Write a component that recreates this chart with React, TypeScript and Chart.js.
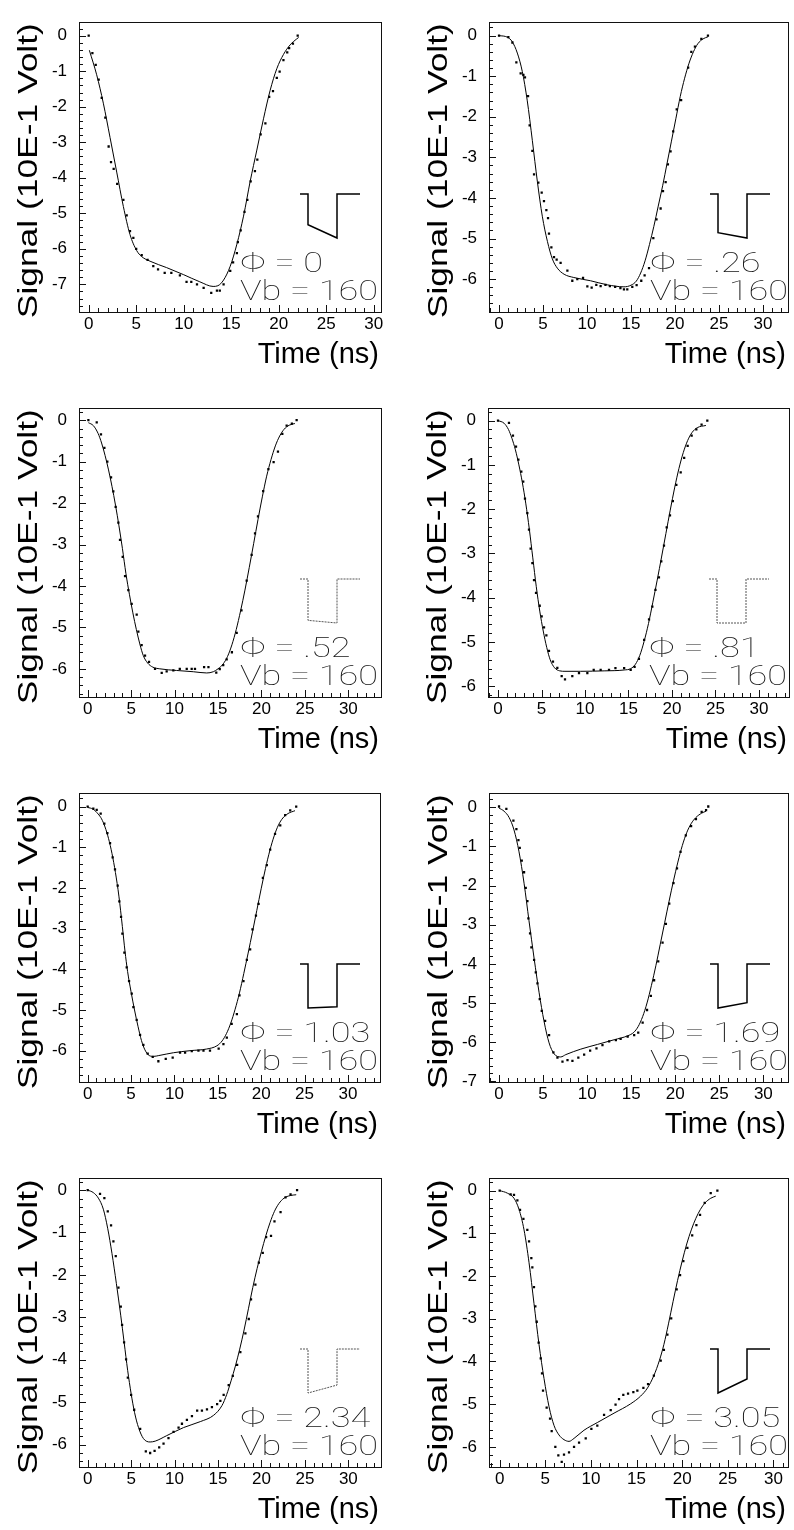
import React, { useEffect, useRef } from "react";
import { Chart, registerables } from "chart.js";
Chart.register(...registerables);

// ---------- labels ----------
const phiLabels = ["0", ".26", ".52", ".81", "1.03", "1.69", "2.34", "3.05"];
const vbLabels = ["160", "160", "160", "160", "160", "160", "160", "160"];
const xTitle = "Time (ns)";
const yTitle = "Signal (10E-1 Volt)";
const xTickValues = [0, 5, 10, 15, 20, 25, 30];
const yTicks7 = [-7, -6, -5, -4, -3, -2, -1, 0];
const yTicks6 = [-6, -5, -4, -3, -2, -1, 0];

// ---------- axis ranges ----------
const xMin = [-1.02, -1.14, -1.0, -1.15, -1.0, -1.14, -1.0, -1.17];
const xMax = [30.77, 32.85, 33.76, 33.45, 33.7, 32.8, 33.76, 31.6];
const yMin = [-7.78, -6.81, -6.68, -6.24, -6.77, -7.02, -6.53, -6.47];
const yMax = [0.38, 0.33, 0.29, 0.28, 0.33, 0.36, 0.28, 0.29];

// ---------- inset pulse shape (relative depth at start / end of pulse) ----------
const pulseStart = [0.7, 0.88, 0.94, 1.0, 1.0, 1.0, 1.0, 1.0];
const pulseEnd = [1.0, 1.0, 1.0, 1.0, 0.97, 0.88, 0.82, 0.68];

// ---------- data: measured points and simulated curves ----------
const p1Dots = [[0,0],[0.39,-0.49],[0.74,-0.82],[1.05,-1.24],[1.37,-1.75],[1.75,-2.31],[2.1,-3.12],[2.35,-3.56],[2.63,-3.75],[3.0,-4.17],[3.65,-4.62],[4.0,-5.06],[4.35,-5.5],[4.7,-5.69],[5.0,-6.0],[5.58,-6.18],[6.2,-6.31],[6.8,-6.49],[7.3,-6.58],[8.0,-6.68],[8.7,-6.68],[9.6,-6.75],[10.3,-6.93],[10.8,-6.93],[11.4,-7.0],[12.1,-7.1],[12.9,-7.24],[13.5,-7.18],[13.8,-7.18],[14.2,-7.0],[14.9,-6.62],[15.2,-6.38],[15.6,-6.12],[15.7,-5.81],[16.0,-5.48],[16.4,-4.96],[16.7,-4.62],[17.05,-4.1],[17.5,-3.81],[17.75,-3.49],[18.1,-2.78],[18.6,-2.47],[19.0,-1.72],[19.4,-1.56],[19.8,-1.19],[20.1,-1.01],[20.5,-0.69],[20.9,-0.47],[21.1,-0.35],[21.5,-0.22],[22.0,0]];
const p1Curve = [[0.07,-0.41],[0.84,-1.1],[1.54,-1.9],[2.25,-2.87],[2.95,-3.84],[3.65,-4.81],[4.35,-5.6],[5.05,-6.05],[5.58,-6.22],[6.46,-6.35],[8.2,-6.53],[10.0,-6.73],[11.7,-6.93],[13.1,-7.06],[13.6,-7.04],[14.2,-6.88],[14.9,-6.49],[15.6,-5.87],[16.3,-5.08],[17.0,-4.1],[17.7,-3.22],[18.4,-2.34],[19.1,-1.54],[19.8,-0.93],[20.5,-0.53],[21.2,-0.26],[21.9,-0.09],[22.1,-0.05]];

const p2Dots = [[0,0],[1.06,-0.04],[1.52,-0.17],[1.97,-0.66],[2.46,-0.93],[2.77,-0.97],[2.95,-1.03],[3.3,-1.49],[3.48,-2.21],[3.79,-2.84],[3.98,-3.42],[4.47,-3.62],[4.85,-3.87],[5.11,-4.08],[5.38,-4.3],[5.57,-4.5],[5.68,-4.88],[5.95,-5.22],[6.25,-5.46],[6.55,-5.52],[7.0,-5.6],[7.77,-5.79],[8.33,-6.04],[8.9,-6.0],[9.55,-5.97],[10.04,-6.18],[10.53,-6.21],[11.06,-6.14],[11.55,-6.17],[12.1,-6.14],[12.6,-6.17],[13.2,-6.19],[13.8,-6.22],[14.2,-6.25],[14.58,-6.25],[15.15,-6.19],[15.64,-6.15],[16.17,-6.04],[16.55,-5.91],[17.05,-5.73],[17.54,-4.99],[17.9,-4.53],[18.37,-4.26],[18.64,-3.83],[18.94,-3.61],[19.2,-3.17],[19.5,-2.85],[19.8,-2.36],[20.2,-1.82],[20.7,-1.59],[21.5,-0.79],[21.86,-0.4],[22.27,-0.27],[23.0,-0.08],[23.75,0]];
const p2Curve = [[0,0],[0.95,-0.04],[1.5,-0.15],[2.08,-0.43],[2.65,-0.89],[3.2,-1.59],[3.79,-2.59],[4.36,-3.6],[4.92,-4.45],[5.5,-5.07],[6.06,-5.5],[6.63,-5.73],[7.4,-5.88],[8.5,-5.96],[10.4,-6.04],[12.3,-6.14],[14.2,-6.19],[15.0,-6.15],[15.6,-6.05],[16.1,-5.85],[16.6,-5.55],[17.1,-5.15],[17.6,-4.7],[18.1,-4.2],[18.6,-3.7],[19.1,-3.15],[19.6,-2.6],[20.1,-2.05],[20.6,-1.5],[21.1,-1.05],[21.6,-0.68],[22.1,-0.4],[22.6,-0.2],[23.2,-0.08],[23.75,-0.03]];

const p3Dots = [[0.08,0],[1.04,-0.05],[1.53,-0.34],[1.92,-0.67],[2.26,-1.0],[2.69,-1.38],[2.95,-1.72],[3.22,-2.09],[3.53,-2.47],[3.72,-2.89],[4.03,-3.3],[4.3,-3.76],[4.68,-4.1],[5.06,-4.43],[5.64,-4.69],[5.83,-5.1],[6.21,-5.43],[6.6,-5.68],[7.06,-5.83],[7.75,-6.0],[8.52,-6.1],[9.09,-6.06],[9.86,-6.04],[10.6,-6.0],[11.4,-6.0],[11.97,-6.0],[12.35,-6.0],[13.4,-5.96],[13.9,-5.96],[14.8,-6.09],[15.2,-6.01],[15.6,-5.91],[16.0,-5.77],[16.6,-5.6],[17.15,-5.13],[17.7,-4.59],[18.3,-3.87],[18.87,-3.25],[19.26,-2.73],[19.6,-2.32],[20.2,-1.71],[20.8,-1.18],[21.4,-1.01],[21.9,-0.76],[22.4,-0.33],[22.9,-0.13],[23.5,-0.08],[24.05,0]];
const p3Curve = [[0.08,-0.06],[0.65,-0.13],[1.2,-0.32],[1.6,-0.55],[2.0,-0.85],[2.4,-1.2],[2.8,-1.6],[3.2,-2.05],[3.6,-2.55],[4.0,-3.1],[4.4,-3.7],[4.8,-4.2],[5.2,-4.65],[5.6,-5.05],[6.0,-5.4],[6.4,-5.68],[6.9,-5.86],[7.5,-5.96],[8.3,-6.0],[10.24,-6.04],[12.16,-6.07],[13.7,-6.1],[14.46,-6.07],[15.0,-6.0],[15.6,-5.88],[16.1,-5.7],[16.6,-5.42],[17.1,-5.05],[17.6,-4.6],[18.1,-4.1],[18.6,-3.55],[19.1,-2.98],[19.6,-2.4],[20.1,-1.85],[20.6,-1.35],[21.1,-0.95],[21.6,-0.62],[22.1,-0.38],[22.6,-0.22],[23.2,-0.12],[23.85,-0.08]];

const p4Dots = [[0,0],[1.26,-0.05],[1.72,-0.34],[2.07,-0.59],[2.34,-0.88],[2.68,-1.15],[2.9,-1.38],[3.1,-1.76],[3.37,-2.09],[3.56,-2.46],[3.75,-2.89],[3.95,-3.22],[4.14,-3.6],[4.37,-3.89],[4.79,-4.18],[5.02,-4.42],[5.29,-4.67],[5.56,-4.85],[5.86,-5.2],[6.32,-5.44],[6.82,-5.58],[7.32,-5.77],[7.7,-5.84],[8.54,-5.77],[9.31,-5.7],[10.27,-5.7],[11.0,-5.63],[11.8,-5.63],[12.76,-5.63],[13.5,-5.59],[14.5,-5.59],[15.25,-5.63],[15.7,-5.56],[16.2,-5.38],[16.8,-4.95],[17.36,-4.49],[17.74,-4.2],[18.1,-3.82],[18.5,-3.54],[18.77,-3.18],[19.08,-2.82],[19.39,-2.41],[19.77,-2.14],[20.1,-1.82],[20.5,-1.45],[21.0,-1.17],[21.4,-0.84],[21.8,-0.57],[22.26,-0.34],[22.8,-0.2],[23.4,-0.09],[24.06,0]];
const p4Curve = [[0,0],[0.7,-0.06],[1.2,-0.2],[1.6,-0.4],[2.0,-0.66],[2.4,-1.0],[2.8,-1.4],[3.2,-1.88],[3.6,-2.45],[4.0,-3.1],[4.4,-3.75],[4.8,-4.3],[5.2,-4.75],[5.6,-5.12],[6.0,-5.4],[6.5,-5.58],[7.1,-5.65],[7.7,-5.66],[9.5,-5.66],[12.2,-5.65],[14.5,-5.63],[15.25,-5.6],[15.8,-5.5],[16.3,-5.3],[16.8,-4.98],[17.3,-4.58],[17.8,-4.1],[18.3,-3.6],[18.8,-3.08],[19.3,-2.55],[19.8,-2.02],[20.3,-1.52],[20.8,-1.08],[21.3,-0.72],[21.8,-0.45],[22.3,-0.27],[22.9,-0.16],[23.9,-0.11]];

const p5Dots = [[0,0],[0.65,-0.05],[1.04,-0.08],[1.5,-0.17],[1.92,-0.42],[2.27,-0.65],[2.58,-0.9],[2.88,-1.25],[3.15,-1.54],[3.46,-1.94],[3.65,-2.33],[3.85,-2.71],[4.0,-3.12],[4.23,-3.59],[4.5,-3.95],[4.77,-4.29],[5.08,-4.6],[5.27,-4.93],[5.65,-5.24],[6.04,-5.61],[6.42,-5.86],[6.92,-6.07],[7.5,-6.15],[8.15,-6.26],[9.0,-6.2],[9.8,-6.17],[10.65,-6.05],[11.23,-6.05],[12.0,-6.01],[12.77,-6.0],[13.35,-6.0],[14.1,-6.0],[15.1,-5.95],[15.65,-5.84],[16.04,-5.68],[16.6,-5.34],[17.2,-5.1],[17.5,-4.64],[17.96,-4.29],[18.35,-3.77],[18.73,-3.51],[19.0,-3.02],[19.4,-2.68],[19.7,-2.39],[20.2,-1.75],[20.65,-1.44],[21.04,-1.06],[21.6,-0.67],[22.2,-0.46],[22.77,-0.21],[23.35,-0.09],[24.04,0]];
const p5Curve = [[0,-0.02],[0.6,-0.06],[1.2,-0.18],[1.6,-0.3],[2.0,-0.5],[2.4,-0.78],[2.8,-1.15],[3.2,-1.62],[3.6,-2.2],[4.0,-2.95],[4.3,-3.55],[4.6,-4.05],[5.0,-4.55],[5.4,-5.0],[5.8,-5.4],[6.2,-5.75],[6.6,-5.98],[7.1,-6.12],[7.6,-6.14],[8.2,-6.12],[9.9,-6.05],[11.8,-6.0],[13.7,-5.96],[14.9,-5.88],[15.5,-5.76],[16.0,-5.58],[16.5,-5.32],[17.0,-4.98],[17.5,-4.58],[18.0,-4.1],[18.5,-3.6],[19.0,-3.08],[19.5,-2.55],[20.0,-2.02],[20.5,-1.52],[21.0,-1.08],[21.5,-0.72],[22.0,-0.45],[22.5,-0.28],[23.1,-0.17],[23.9,-0.1]];

const p6Dots = [[0,0.02],[0.83,-0.04],[1.63,-0.34],[1.97,-0.56],[2.2,-0.84],[2.35,-1.04],[2.58,-1.36],[2.84,-1.66],[3.03,-2.06],[3.22,-2.4],[3.33,-2.84],[3.52,-3.22],[3.67,-3.58],[3.98,-3.9],[4.17,-4.22],[4.36,-4.5],[4.62,-4.9],[4.85,-5.2],[5.23,-5.46],[5.68,-5.82],[6.17,-6.26],[6.63,-6.4],[7.2,-6.5],[7.77,-6.46],[8.33,-6.48],[9.0,-6.4],[9.66,-6.32],[10.34,-6.22],[11.06,-6.16],[11.74,-6.08],[12.5,-5.98],[13.26,-5.95],[13.8,-5.92],[14.6,-5.86],[15.34,-5.82],[15.8,-5.76],[16.3,-5.5],[16.8,-5.18],[17.23,-4.82],[17.6,-4.42],[18.07,-3.94],[18.56,-3.46],[18.94,-2.98],[19.32,-2.46],[19.8,-1.94],[20.2,-1.56],[20.6,-1.14],[21.2,-0.72],[21.8,-0.48],[22.35,-0.3],[23.0,-0.12],[23.5,-0.07],[23.75,0.02]];
const p6Curve = [[0,-0.02],[0.57,-0.1],[1.14,-0.26],[1.7,-0.58],[2.27,-1.14],[2.84,-1.94],[3.4,-2.9],[3.98,-3.86],[4.55,-4.74],[5.1,-5.46],[5.68,-6.02],[6.25,-6.3],[7.0,-6.38],[7.58,-6.32],[9.28,-6.18],[11.17,-6.06],[13.07,-5.94],[14.6,-5.84],[15.3,-5.75],[15.8,-5.6],[16.3,-5.35],[16.8,-5.0],[17.3,-4.55],[17.8,-4.05],[18.3,-3.5],[18.8,-2.95],[19.3,-2.4],[19.8,-1.88],[20.3,-1.4],[20.8,-0.98],[21.3,-0.65],[21.8,-0.42],[22.35,-0.26],[23.0,-0.15],[23.5,-0.1]];

const p7Dots = [[0,0],[1.42,-0.09],[1.92,-0.19],[2.31,-0.5],[2.69,-0.83],[2.96,-1.21],[3.23,-1.56],[3.54,-2.3],[3.81,-2.75],[3.96,-3.18],[4.19,-3.59],[4.42,-3.99],[4.62,-4.42],[5.0,-4.83],[5.35,-5.18],[6.04,-5.63],[6.69,-6.16],[7.19,-6.2],[7.7,-6.15],[8.23,-6.07],[8.73,-5.98],[9.3,-5.85],[9.88,-5.7],[10.46,-5.6],[10.85,-5.51],[11.42,-5.42],[12.0,-5.33],[12.6,-5.2],[13.15,-5.2],[13.73,-5.17],[14.3,-5.12],[14.9,-5.05],[15.27,-4.97],[15.65,-4.83],[16.23,-4.6],[16.7,-4.38],[17.2,-4.12],[17.57,-3.82],[18.15,-3.38],[18.54,-3.04],[18.8,-2.58],[19.3,-2.23],[19.7,-1.71],[20.15,-1.48],[20.54,-1.11],[21.1,-1.08],[21.5,-0.74],[22.2,-0.52],[22.77,-0.17],[23.35,-0.1],[24.1,0]];
const p7Curve = [[0,0],[0.65,-0.06],[1.23,-0.19],[1.8,-0.45],[2.3,-0.9],[2.8,-1.5],[3.3,-2.2],[3.8,-2.95],[4.2,-3.6],[4.6,-4.25],[5.0,-4.8],[5.4,-5.25],[5.85,-5.6],[6.42,-5.86],[7.19,-5.94],[7.77,-5.92],[9.1,-5.79],[11.04,-5.6],[12.96,-5.46],[14.5,-5.31],[15.46,-5.08],[16.0,-4.82],[16.5,-4.5],[17.0,-4.15],[17.5,-3.75],[18.0,-3.3],[18.5,-2.8],[19.0,-2.3],[19.5,-1.85],[20.0,-1.45],[20.5,-1.08],[21.0,-0.76],[21.5,-0.5],[22.0,-0.32],[22.6,-0.19],[23.3,-0.13],[24.0,-0.11]];

const p8Dots = [[0,0],[1.2,-0.09],[1.57,-0.1],[1.94,-0.23],[2.23,-0.45],[2.6,-0.66],[3.03,-0.92],[3.22,-1.19],[3.47,-1.58],[3.58,-1.8],[3.76,-2.26],[3.91,-2.71],[4.06,-3.07],[4.27,-3.56],[4.5,-3.93],[4.64,-4.28],[4.75,-4.68],[5.15,-5.08],[5.52,-5.34],[5.7,-5.63],[6.1,-6.0],[6.43,-6.2],[6.8,-6.35],[7.05,-6.18],[7.6,-6.13],[8.15,-6.0],[8.7,-5.9],[9.43,-5.8],[10.05,-5.58],[10.7,-5.5],[11.44,-5.25],[12.17,-5.14],[12.7,-5.01],[13.08,-4.88],[13.55,-4.78],[14.07,-4.75],[14.65,-4.72],[15.09,-4.68],[15.75,-4.62],[16.26,-4.53],[16.9,-4.33],[17.65,-3.98],[18.0,-3.73],[18.38,-3.37],[18.8,-2.99],[19.4,-2.31],[19.77,-1.98],[20.13,-1.65],[20.57,-1.34],[21.1,-1.05],[21.56,-0.81],[21.96,-0.57],[22.47,-0.29],[23.13,-0.06],[23.86,0]];
const p8Curve = [[0,0],[0.84,-0.06],[1.57,-0.18],[2.12,-0.44],[2.67,-0.92],[3.22,-1.69],[3.76,-2.64],[4.31,-3.6],[4.86,-4.4],[5.41,-5.06],[5.96,-5.5],[6.5,-5.72],[7.05,-5.83],[7.6,-5.87],[8.15,-5.8],[9.24,-5.61],[10.7,-5.43],[12.53,-5.21],[14.36,-4.99],[15.45,-4.81],[16.2,-4.62],[16.9,-4.33],[17.5,-3.98],[18.0,-3.6],[18.5,-3.12],[19.0,-2.6],[19.5,-2.1],[20.0,-1.65],[20.5,-1.25],[21.0,-0.92],[21.5,-0.65],[22.0,-0.44],[22.5,-0.29],[23.13,-0.18],[23.68,-0.13]];

const allDots = [p1Dots, p2Dots, p3Dots, p4Dots, p5Dots, p6Dots, p7Dots, p8Dots];
const allCurves = [p1Curve, p2Curve, p3Curve, p4Curve, p5Curve, p6Curve, p7Curve, p8Curve];
const allYTicks = [yTicks7, yTicks6, yTicks6, yTicks6, yTicks6, yTicks7, yTicks6, yTicks6];

// ---------- layout (styles) ----------
const CW = 397;
const CH = 374;
const colLeft = [0, 397];
const rowTop = [0, 386, 771, 1156];
// frame [left, top, right, bottom] in canvas-local pixels
const frames = [
  [79, 4, 381, 312], [92, 4, 391, 312],
  [79, 5, 381, 311], [91, 4, 392, 311],
  [79, 4, 380, 311], [92, 3, 391, 311],
  [79, 5, 381, 311], [92, 4, 391, 311],
];
const dashedInset = [false, false, true, true, false, false, true, false];
const FONT = '"Liberation Sans", Arial, Helvetica, sans-serif';
const THIN_FONT = '100 28px Roboto, "Liberation Sans", sans-serif';

const decorPlugin = {
  id: "decor",
  afterDraw(chart: any, _args: any, opts: any) {
    const i = opts.idx;
    const ctx = chart.ctx as CanvasRenderingContext2D;
    const { left: L, top: T, right: R, bottom: B } = chart.chartArea;
    const xs = chart.scales.x;
    const ys = chart.scales.y;
    ctx.save();
    // frame
    ctx.strokeStyle = "#111";
    ctx.lineWidth = 1;
    ctx.strokeRect(Math.round(L) + 0.5, Math.round(T) + 0.5, Math.round(R - L), Math.round(B - T));
    // ticks inward
    ctx.beginPath();
    for (let v = Math.ceil(xs.min); v <= xs.max; v++) {
      const px = Math.round(xs.getPixelForValue(v)) + 0.5;
      const len = v % 5 === 0 ? 7 : 4;
      ctx.moveTo(px, B);
      ctx.lineTo(px, B - len);
    }
    for (let k = Math.ceil(ys.min * 5); k <= Math.floor(ys.max * 5); k++) {
      const py = Math.round(ys.getPixelForValue(k / 5)) + 0.5;
      const len = k % 5 === 0 ? 7 : 4;
      ctx.moveTo(L, py);
      ctx.lineTo(L + len, py);
    }
    ctx.stroke();
    // axis titles
    ctx.fillStyle = "#000";
    ctx.font = `29px ${FONT}`;
    ctx.textAlign = "right";
    ctx.textBaseline = "alphabetic";
    ctx.fillText(xTitle, R - 2, B + 51);
    ctx.save();
    ctx.translate(L - 50, T + 1);
    ctx.rotate(-Math.PI / 2);
    ctx.font = `28px ${FONT}`;
    const yw = ctx.measureText(yTitle).width;
    ctx.scale(295 / yw, 1);
    ctx.textAlign = "right";
    ctx.textBaseline = "middle";
    ctx.fillText(yTitle, 0, 0);
    ctx.restore();
    // inset pulse
    const top = B - 118;
    const h = 44;
    ctx.beginPath();
    ctx.moveTo(L + 221, top);
    ctx.lineTo(L + 229, top);
    ctx.lineTo(L + 229, top + h * pulseStart[i]);
    ctx.lineTo(L + 258, top + h * pulseEnd[i]);
    ctx.lineTo(L + 258, top);
    ctx.lineTo(L + 281, top);
    if (dashedInset[i]) {
      ctx.setLineDash([2, 1]);
      ctx.strokeStyle = "#555";
      ctx.lineWidth = 1;
    } else {
      ctx.strokeStyle = "#000";
      ctx.lineWidth = 1.5;
    }
    ctx.stroke();
    ctx.setLineDash([]);
    // phi / Vb text
    ctx.font = THIN_FONT;
    ctx.fillStyle = "#111";
    ctx.textAlign = "left";
    ctx.textBaseline = "alphabetic";
    const line2 = "Vb = " + vbLabels[i];
    const w2 = ctx.measureText(line2).width;
    const sx = 138 / w2;
    ctx.save();
    ctx.scale(sx, 1);
    ctx.fillText("Φ = " + phiLabels[i], (L + 161) / sx, B - 40);
    ctx.fillText(line2, (L + 161) / sx, B - 12);
    ctx.restore();
    ctx.restore();
  },
};

function Panel({ idx }: { idx: number }) {
  const ref = useRef<HTMLCanvasElement | null>(null);
  useEffect(() => {
    const [L, T, R, B] = frames[idx];
    const toPts = (a: number[][]) => a.map(([x, y]) => ({ x, y }));
    const chart = new Chart(ref.current as HTMLCanvasElement, {
      type: "line",
      data: {
        datasets: [
          {
            data: toPts(allCurves[idx]),
            borderColor: "#000",
            borderWidth: 1,
            pointRadius: 0,
            cubicInterpolationMode: "monotone",
            fill: false,
          },
          {
            data: toPts(allDots[idx]),
            showLine: false,
            pointStyle: "rect",
            pointRadius: 1.6,
            pointBackgroundColor: "#000",
            pointBorderWidth: 0,
            borderColor: "#000",
          },
        ],
      } as any,
      options: {
        responsive: false,
        animation: false,
        events: [],
        layout: { padding: { left: 0, top: T, right: CW - R, bottom: 0 } },
        plugins: {
          legend: { display: false },
          tooltip: { enabled: false },
          decor: { idx },
        } as any,
        scales: {
          x: {
            type: "linear",
            min: xMin[idx],
            max: xMax[idx],
            grid: { display: false, drawTicks: false },
            border: { display: false },
            ticks: {
              color: "#000",
              font: { size: 17, family: FONT },
              padding: 2,
              autoSkip: false,
              maxRotation: 0,
              callback: (v: any) => String(v),
            },
            afterBuildTicks: (s: any) => {
              s.ticks = xTickValues.map((v) => ({ value: v }));
            },
            afterFit: (s: any) => {
              s.height = CH - B;
            },
          },
          y: {
            type: "linear",
            min: yMin[idx],
            max: yMax[idx],
            grid: { display: false, drawTicks: false },
            border: { display: false },
            ticks: {
              color: "#000",
              font: { size: 17, family: FONT },
              padding: 12,
              autoSkip: false,
              callback: (v: any) => String(v),
            },
            afterBuildTicks: (s: any) => {
              s.ticks = allYTicks[idx].map((v) => ({ value: v }));
            },
            afterFit: (s: any) => {
              s.width = L;
            },
          },
        },
      } as any,
      plugins: [decorPlugin as any],
    });
    return () => chart.destroy();
  }, [idx]);
  const col = idx % 2;
  const row = Math.floor(idx / 2);
  return (
    <canvas
      ref={ref}
      width={CW}
      height={CH}
      style={{ position: "absolute", left: colLeft[col], top: rowTop[row], width: CW, height: CH }}
    />
  );
}

export default function App() {
  return (
    <div
      style={{
        position: "absolute",
        left: 0,
        top: 0,
        width: 794,
        height: 1530,
        overflow: "hidden",
        background: "#fff",
      }}
    >
      {[0, 1, 2, 3, 4, 5, 6, 7].map((i) => (
        <Panel key={i} idx={i} />
      ))}
    </div>
  );
}
